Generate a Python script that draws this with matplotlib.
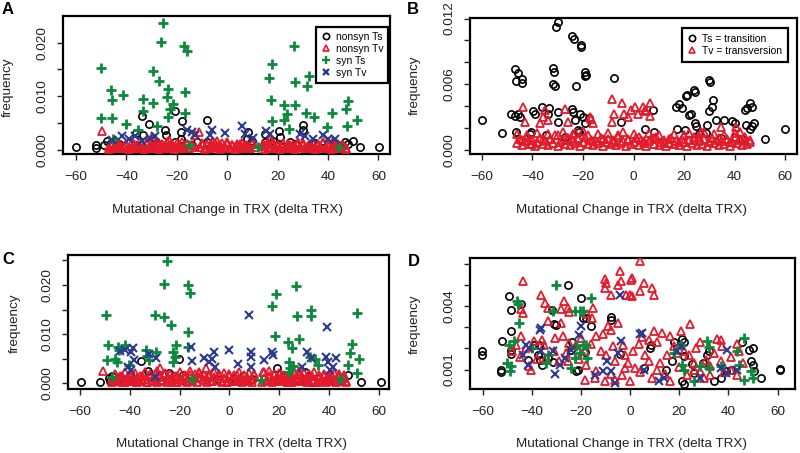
import matplotlib
matplotlib.use('Agg')
import matplotlib.pyplot as plt

plt.rcParams['font.family'] = ['Liberation Sans', 'DejaVu Sans']

# ---------------- data (frequency values in units of 1e-3) ----------------
# Panel A
A_nsts_x = [-60.1, 60.4, -52.1, -52.1, -48.9, -47.8, -33.9, -31.2, -20.6, -18.0,
            -8.1, -36.2, -33.3, -24.6, -24.2, -18.3, -18.3, -39.2, -22.7, -20.6,
            8.4, 8.0, 20.7, 21.0, 30.2, 29.9, 15.0, 24.9, 38.1, 46.8,
            50.1, 52.5, -44.5, 18.3, 15.0, 9.7, -8.1, -12.1, -46.0, -43.0,
            -28.0, -14.0, 22.0, 27.0, 35.0, 44.0, 48.0, -30.0, 33.0]
A_nsts_y = [0.5, 0.5, 0.8, 0.4, 0.8, 1.7, 6.3, 4.8, 7.3, 5.3,
            5.6, 3.1, 2.7, 3.7, 2.7, 3.3, 2.0, 0.4, 0.8, 1.4,
            3.3, 2.0, 3.5, 2.4, 4.7, 3.7, 1.4, 1.4, 0.4, 1.4,
            1.7, 0.5, 1.7, 1.7, 3.0, 1.7, 1.4, 1.4, 1.2, 1.0,
            1.0, 0.9, 0.6, 1.0, 1.2, 0.9, 1.0, 1.6, 0.4]

A_nstv_high_x = [-49.8, -11.1, -13.0, -30.0, -23.0, 17.0, 42.0, -4.0]
A_nstv_high_y = [3.5, 3.3, 2.8, 2.3, 1.8, 2.0, 1.7, 1.6]
A_band_x1 = [-47, -46, -45, -44, -43, -42, -41, -40, -39, -38,
             -37, -36, -35, -34, -33, -32, -31, -30, -29, -28,
             -27, -26, -25, -24, -23, -22, -21, -20, -19, -18,
             -17, -16, -15, -14, -13, -11, -10, -9, -8, -7,
             -6, -5, -4, -3, -2, -1, 0, 1, 2, 3,
             4, 5, 6, 7, 8, 9, 10, 11, 14, 15,
             16, 17, 18, 19, 20, 21, 22, 23, 24, 25,
             26, 27, 28, 29, 30, 31, 32, 33, 34, 35,
             36, 37, 38, 39, 40, 41, 42, 43, 44, 45,
             46, 47]
A_band_y1 = [0.5, 0.8, 0.3, 0.6, 1.0, 0.4, 0.7, 0.9, 0.3, 0.6,
             1.1, 0.5, 0.8, 0.4, 0.7, 1.0, 0.3, 0.6, 0.9, 0.5,
             1.2, 0.4, 0.7, 0.3, 0.8, 1.0, 0.5, 0.6, 0.9, 0.4,
             0.7, 1.1, 0.3, 0.8, 0.5, 0.6, 1.0, 0.4, 0.9, 0.3,
             0.7, 1.2, 0.5, 0.8, 0.4, 0.6, 1.0, 0.3, 0.9, 0.5,
             0.7, 1.1, 0.4, 0.8, 0.6, 0.3, 1.0, 0.5, 0.7, 0.9,
             0.4, 0.6, 1.2, 0.3, 0.8, 0.5, 1.0, 0.4, 0.7, 0.9,
             0.3, 0.6, 1.1, 0.5, 0.8, 0.4, 0.7, 1.0, 0.3, 0.6,
             0.9, 0.5, 1.2, 0.4, 0.8, 0.3, 0.7, 1.0, 0.5, 0.6,
             0.9, 0.4]
A_band_x2 = [-46, -44, -42, -40, -38, -36, -34, -32, -30, -28,
             -26, -24, -22, -20, -18, -16, -14, -10, -8, -6,
             -4, -2, 0, 2, 4, 6, 8, 10, 14, 16,
             18, 20, 22, 24, 26, 28, 30, 32, 34, 36,
             38, 40, 42, 44, 46]
A_band_y2 = [0.9, 1.3, 0.6, 1.1, 1.4, 0.8, 1.2, 1.5, 0.9, 1.3,
             1.0, 1.4, 0.7, 1.2, 1.5, 1.1, 0.8, 1.3, 1.0, 1.4,
             0.7, 1.2, 1.5, 0.9, 1.1, 1.3, 0.8, 1.4, 1.0, 1.2,
             1.5, 0.8, 1.3, 1.1, 0.9, 1.4, 1.2, 0.7, 1.3, 1.0,
             1.5, 0.9, 1.2, 1.1, 0.8]
A_band_x3 = [-47, -45, -43, -41, -39, -37, -35, -33, -31, -29,
             -27, -25, -23, -21, -19, -17, -15, -9, -7, -5,
             -3, -1, 1, 3, 5, 7, 9, 15, 17, 19,
             21, 23, 25, 27, 29, 31, 33, 35, 37, 39,
             41, 43, 45, 47]
A_band_y3 = [0.2, 0.4, 0.3, 0.5, 0.2, 0.3, 0.4, 0.2, 0.5, 0.3,
             0.2, 0.4, 0.3, 0.2, 0.5, 0.3, 0.4, 0.2, 0.3, 0.5,
             0.2, 0.4, 0.3, 0.2, 0.5, 0.3, 0.4, 0.2, 0.3, 0.5,
             0.2, 0.4, 0.3, 0.2, 0.5, 0.3, 0.4, 0.2, 0.3, 0.5,
             0.2, 0.4, 0.3, 0.2]

A_syts_x = [-25.7, -26.4, -17.0, -16.1, -50.2, -29.6, -27.1, -46.2, -41.2, -23.4,
            -16.6, -45.6, -33.6, -29.6, -24.0, -21.7, -22.7, -50.2, -45.6, -40.1,
            -33.3, -23.4, -16.6, -28.0, -35.3, -15.1, 26.3, 17.9, 16.6, 26.9,
            32.6, 31.8, 50.7, 17.3, 22.6, 26.9, 23.6, 22.6, 24.7, 17.6,
            31.1, 34.6, 41.5, 39.5, 48.0, 47.1, 47.4, 51.4, 12.4, 44.3,
            -45.2]
A_syts_y = [23.6, 20.1, 19.4, 18.4, 15.3, 14.8, 12.9, 11.2, 10.2, 11.4,
            10.8, 9.3, 9.4, 8.7, 9.9, 8.6, 7.6, 6.0, 6.0, 4.8,
            7.2, 6.2, 6.8, 4.5, 3.6, 0.8, 19.3, 16.1, 13.4, 12.6,
            13.7, 12.0, 16.0, 9.3, 8.4, 8.4, 6.7, 5.5, 3.9, 5.3,
            6.8, 6.2, 6.8, 4.2, 9.1, 7.6, 4.5, 5.6, 0.5, 0.5,
            2.0]

A_sytv_x = [-41.9, -39.2, -36.6, -30.6, -28.7, -16.1, -14.1, -12.8, -6.2, -6.8,
            -0.9, 5.7, 7.1, 10.4, 15.4, 17.0, 28.9, 30.9, 34.2, 38.1,
            40.1, 42.8, -45.9, -33.9]
A_sytv_y = [2.5, 2.0, 2.5, 2.2, 2.5, 3.6, 3.3, 2.7, 3.6, 2.7,
            3.1, 4.5, 3.0, 2.2, 3.5, 2.9, 3.0, 2.5, 2.0, 2.7,
            2.0, 2.0, 1.9, 1.7]

# Panel B
B_ts_x = [-60.1, -52.2, -46.9, -45.9, -46.3, -44.3, -44.3, -48.3, -46.9, -45.6,
          -45.0, -46.3, -40.4, -39.7, -39.0, -36.4, -33.5, -34.0, -29.8, -30.5,
          -31.8, -31.4, -31.8, -31.1, -29.8, -29.8, -24.3, -23.7, -20.8, -20.6,
          -22.9, -19.3, -18.6, -19.3, -24.3, -23.9, -23.2, -21.2, -19.9, -19.3,
          -21.9, -21.6, -7.9, -5.0, 7.8, 4.5, 17.0, 17.9, 19.0, 20.6,
          21.0, 22.0, 22.7, 24.0, 24.5, 30.0, 30.2, 31.5, 30.9, 30.0,
          32.8, 35.9, 38.8, 40.1, 17.4, 20.3, 21.6, 24.3, 24.9, 28.9,
          28.5, 34.8, 40.1, 44.0, 46.0, 46.7, 45.1, 44.7, 46.7, 47.7,
          46.0, 52.0, 59.9, -41.0, -34.5, -27.0, -17.5, 8.2, 26.0, 43.0]
B_ts_y = [2.7, 1.5, 7.4, 7.0, 6.3, 6.5, 6.1, 3.3, 3.1, 3.3,
          3.0, 1.6, 1.6, 3.5, 3.3, 3.9, 3.8, 3.3, 11.7, 11.2,
          7.5, 7.1, 6.0, 5.8, 3.4, 2.5, 10.4, 10.1, 9.6, 9.4,
          5.8, 7.1, 6.8, 6.7, 3.7, 3.4, 2.7, 3.3, 3.0, 2.4,
          1.8, 1.6, 6.6, 2.5, 3.6, 1.9, 3.9, 4.2, 3.8, 4.9,
          5.0, 3.2, 3.3, 5.5, 5.3, 6.4, 6.2, 4.5, 3.9, 3.5,
          2.7, 2.7, 2.6, 2.4, 1.9, 1.8, 0.9, 2.4, 2.2, 2.3,
          1.5, 1.1, 1.2, 3.6, 4.3, 3.9, 3.8, 2.3, 2.2, 2.4,
          1.9, 1.0, 1.9, 1.4, 1.3, 1.2, 2.9, 1.6, 1.4, 1.0]

B_tv_high_x = [-43.6, -43.0, -35.1, -35.7, -33.8, -37.1, -27.2, -25.8, -23.2, -17.3,
               -16.0, -8.4, -7.8, -8.4, -4.5, -3.7, -0.8, 0.5, 1.8, 3.8,
               4.5, 6.5, 6.5, 26.9, 34.8, 40.7, 42.1, -17.0, -2.0, 5.0]
B_tv_high_y = [3.9, 2.5, 3.6, 3.0, 2.7, 2.4, 3.7, 2.5, 1.5, 3.0,
               2.4, 4.6, 3.3, 2.5, 4.3, 3.3, 3.6, 3.9, 3.3, 3.9,
               3.6, 4.3, 3.1, 1.6, 2.1, 2.1, 1.6, 2.8, 3.0, 3.5]
B_band_x1 = [-46, -45, -44, -43, -42, -41, -40, -39, -38, -37,
             -36, -35, -34, -33, -32, -31, -30, -29, -28, -27,
             -26, -25, -24, -23, -22, -21, -20, -19, -18, -17,
             -16, -15, -14, -13, -12, -11, -10, -9, -8, -7,
             -6, -5, -4, -3, -2, -1, 0, 1, 2, 3,
             4, 5, 6, 7, 8, 9, 10, 11, 12, 13,
             14, 15, 16, 17, 18, 19, 20, 21, 22, 23,
             24, 25, 26, 27, 28, 29, 30, 31, 32, 33,
             34, 35, 36, 37, 38, 39, 40, 41, 42, 43,
             44, 45, 46]
B_band_y1 = [0.6, 1.0, 0.4, 0.8, 1.2, 0.5, 0.9, 0.3, 0.7, 1.1,
             0.5, 0.8, 0.4, 1.0, 0.6, 1.3, 0.3, 0.7, 0.9, 0.5,
             1.1, 0.4, 0.8, 0.6, 1.0, 0.3, 0.7, 1.2, 0.5, 0.9,
             0.4, 0.8, 0.6, 1.1, 0.3, 0.7, 1.0, 0.5, 0.9, 0.4,
             1.2, 0.6, 0.8, 0.3, 1.0, 0.5, 0.7, 1.1, 0.4, 0.9,
             0.6, 0.3, 0.8, 1.0, 0.5, 1.2, 0.4, 0.7, 0.9, 0.3,
             0.6, 1.1, 0.5, 0.8, 0.4, 1.0, 0.7, 0.3, 0.9, 0.6,
             1.2, 0.4, 0.8, 0.5, 1.0, 0.3, 0.7, 1.1, 0.6, 0.9,
             0.4, 0.8, 0.5, 1.0, 0.3, 0.7, 1.2, 0.6, 0.9, 0.4,
             0.8, 0.5, 0.7]
B_band_x2 = [-46, -44, -42, -40, -38, -36, -34, -32, -30, -28,
             -26, -24, -22, -20, -18, -16, -14, -12, -10, -8,
             -6, -4, -2, 0, 2, 4, 6, 8, 10, 12,
             14, 16, 18, 20, 22, 24, 26, 28, 30, 32,
             34, 36, 38, 40, 42, 44, 46]
B_band_y2 = [1.4, 0.9, 1.3, 0.5, 1.5, 1.0, 1.4, 0.6, 1.3, 1.6,
             0.9, 1.4, 1.1, 1.7, 1.3, 0.8, 1.4, 1.0, 1.5, 0.7,
             1.3, 1.6, 0.9, 1.4, 1.2, 0.8, 1.5, 1.1, 1.3, 0.6,
             1.0, 1.4, 0.7, 1.3, 1.5, 0.9, 1.2, 1.6, 0.8, 1.4,
             1.1, 1.3, 0.7, 1.5, 1.0, 1.2, 0.9]

# Panel C
C_nsts_x = [-59.6, -51.8, -48.2, -48.0, -35.5, -20.1, -24.1, -18.7, -18.0, -38.1,
            -32.8, 5.4, 19.2, 18.1, 22.1, 30.2, 47.6, 53.0, 61.0, -44.0,
            -28.0, -22.0, 2.0, 20.0, 25.0, 28.0, 35.0, 40.0, 45.0, -40.0,
            9.0, -5.0, 33.0, -47.0]
C_nsts_y = [0.3, 0.2, 1.0, 0.4, 4.5, 4.9, 2.2, 1.7, 1.0, 0.3,
            2.5, 1.4, 3.2, 1.7, 1.2, 2.4, 1.6, 0.3, 0.3, 1.1,
            0.5, 0.9, 1.1, 0.6, 0.9, 0.4, 1.0, 0.8, 0.5, 1.3,
            0.8, 0.9, 0.3, 1.4]

C_nstv_high_x = [-50.6, -27.8, -9.3, -12.0, 13.4, -29.0, 16.0, 28.0]
C_nstv_high_y = [2.5, 3.1, 3.2, 2.4, 2.4, 2.6, 2.5, 2.6]
C_band_x1 = [-47, -46, -45, -44, -43, -42, -41, -40, -39, -38,
             -37, -36, -35, -34, -33, -32, -31, -30, -29, -28,
             -27, -26, -25, -24, -23, -22, -21, -20, -19, -18,
             -17, -16, -15, -14, -13, -12, -10, -9, -8, -7,
             -6, -5, -4, -3, -2, -1, 0, 1, 2, 3,
             4, 5, 6, 7, 8, 9, 10, 13, 14, 15,
             16, 17, 18, 19, 20, 21, 22, 23, 24, 25,
             26, 27, 28, 29, 30, 31, 32, 33, 34, 35,
             36, 37, 38, 39, 40, 41, 42, 43, 44, 45,
             46, 47]
C_band_y1 = [0.8, 0.4, 1.2, 0.6, 1.5, 0.3, 1.0, 0.7, 1.8, 0.5,
             1.1, 0.4, 1.4, 0.8, 0.3, 1.6, 0.6, 1.0, 0.4, 1.3,
             0.7, 1.9, 0.5, 0.9, 1.2, 0.3, 1.5, 0.8, 0.6, 1.1,
             0.4, 1.7, 0.7, 1.0, 0.3, 1.3, 0.6, 0.9, 1.5, 0.4,
             1.2, 0.7, 1.8, 0.5, 1.0, 0.3, 1.4, 0.8, 0.6, 1.6,
             0.4, 1.1, 0.7, 1.3, 0.5, 0.9, 1.7, 0.3, 1.0, 0.6,
             1.4, 0.8, 0.4, 1.2, 0.7, 1.6, 0.5, 0.9, 0.3, 1.3,
             0.6, 1.0, 1.8, 0.4, 0.8, 1.2, 0.5, 1.5, 0.7, 0.3,
             1.1, 0.6, 1.4, 0.9, 0.4, 1.7, 0.8, 0.5, 1.2, 0.6,
             1.0, 0.4]
C_band_x2 = [-46, -44, -42, -40, -38, -36, -34, -32, -30, -28,
             -26, -24, -22, -20, -18, -16, -14, -12, -10, -8,
             -6, -4, -2, 0, 2, 4, 6, 8, 10, 14,
             16, 18, 20, 22, 24, 26, 28, 30, 32, 34,
             36, 38, 40, 42, 44, 46]
C_band_y2 = [2.0, 1.5, 2.3, 1.7, 2.1, 1.4, 2.4, 1.8, 2.0, 1.6,
             2.2, 1.9, 1.5, 2.3, 1.7, 2.5, 1.8, 2.1, 1.6, 2.0,
             2.4, 1.5, 2.2, 1.9, 1.7, 2.3, 1.6, 2.1, 1.8, 2.4,
             1.5, 2.0, 2.2, 1.7, 1.9, 2.3, 1.6, 2.1, 1.8, 2.4,
             1.7, 2.0, 1.5, 2.2, 1.9, 1.6]
C_band_x3 = [-47, -45, -43, -41, -39, -37, -35, -33, -31, -29,
             -27, -25, -23, -21, -19, -17, -15, -9, -7, -5,
             -3, -1, 1, 3, 5, 7, 9, 15, 17, 19,
             21, 23, 25, 27, 29, 31, 33, 35, 37, 39,
             41, 43, 45, 47]
C_band_y3 = [0.3, 0.6, 0.2, 0.5, 0.4, 0.2, 0.7, 0.3, 0.5, 0.2,
             0.6, 0.3, 0.4, 0.2, 0.7, 0.3, 0.5, 0.2, 0.4, 0.6,
             0.3, 0.2, 0.5, 0.4, 0.2, 0.6, 0.3, 0.5, 0.2, 0.4,
             0.7, 0.3, 0.2, 0.5, 0.4, 0.2, 0.6, 0.3, 0.5, 0.2,
             0.4, 0.3, 0.6, 0.2]

C_syts_x = [-25.0, -26.1, -16.7, -15.8, -49.6, -29.7, -26.3, -23.3, -16.5, -48.9,
            -44.9, -44.5, -41.9, -49.3, -45.3, -45.8, -33.5, -33.1, -32.2, -29.4,
            -22.7, -22.0, -21.4, -22.7, -16.7, -40.5, -15.0, 12.8, 26.9, 18.6,
            17.2, 27.3, 32.6, 32.9, 51.4, 18.4, 23.5, 27.8, 25.1, 23.9,
            24.4, 25.5, 32.2, 34.2, 35.6, 49.3, 48.3, 52.1, 47.6, 51.3,
            44.3, -47.0, 24.0]
C_syts_y = [24.9, 20.3, 20.0, 18.3, 14.0, 14.0, 13.4, 11.9, 10.4, 7.7,
            7.3, 6.8, 7.7, 4.7, 4.4, 5.0, 6.8, 5.6, 4.7, 6.3,
            6.4, 5.4, 7.7, 4.4, 7.3, 3.8, 0.9, 0.7, 19.7, 18.1,
            15.8, 13.6, 14.9, 13.6, 14.4, 9.7, 8.5, 9.0, 7.1, 4.4,
            3.1, 3.5, 5.4, 4.9, 3.7, 7.9, 6.1, 4.9, 3.7, 2.2,
            0.9, 1.2, 2.3]

C_sytv_x = [7.9, 39.2, -41.8, -38.8, -39.5, -38.1, -40.8, -39.5, -32.2, -29.4,
            -15.4, -15.0, -10.3, -8.0, -6.0, -5.6, -7.0, -0.2, 3.4, 8.5,
            8.8, 8.7, 13.9, 17.2, 17.5, 31.2, 32.9, 38.7, 39.6, 41.6,
            43.0, 40.5, 29.0, -44.0, -30.0]
C_sytv_y = [13.9, 11.5, 6.8, 7.1, 6.4, 4.7, 3.4, 2.7, 5.9, 5.2,
            7.3, 4.5, 5.2, 4.4, 6.4, 3.4, 5.0, 6.8, 3.9, 6.4,
            5.4, 3.4, 4.7, 6.4, 5.8, 6.4, 5.1, 5.4, 4.4, 3.4,
            5.1, 2.7, 3.4, 6.6, 1.2]

# Panel D
D_nsts_x = [-60.5, -60.5, -52.6, -52.6, -52.2, -49.2, -48.5, -48.5, -48.7, -48.5,
            -44.5, -25.4, -20.2, -19.2, -17.9, -31.9, -31.0, -30.1, -39.0, -37.0,
            -37.6, -36.6, -36.0, -31.6, -33.6, -23.7, -18.5, -21.3, -22.0, -16.1,
            -7.6, -7.6, -4.2, 8.5, 8.2, 21.1, 21.8, 17.7, 17.0, 21.8,
            21.1, 22.1, 25.2, 32.0, 31.1, 25.9, 36.8, 34.1, 40.9, 45.7,
            48.4, 49.8, 49.1, 49.8, 50.5, 53.2, 61.1, 61.1, 5.5, 38.9,
            -24.0, -41.5, 14.5, 29.5]
D_nsts_y = [1.87, 1.68, 1.00, 0.90, 2.37, 4.47, 3.84, 2.85, 1.95, 1.74,
            4.11, 4.99, 4.39, 3.45, 3.45, 3.84, 3.16, 3.13, 2.18, 2.18,
            1.71, 1.47, 1.21, 1.36, 1.55, 2.31, 1.84, 1.00, 0.92, 3.05,
            3.48, 3.37, 1.74, 2.18, 2.02, 2.47, 2.31, 2.31, 1.39, 1.63,
            0.45, 0.32, 1.27, 1.87, 1.71, 0.84, 0.61, 0.48, 1.00, 2.31,
            1.95, 2.00, 1.43, 1.24, 0.92, 0.61, 1.05, 1.00, 1.08, 0.92,
            1.95, 1.45, 1.00, 1.30]

D_nstv_x = [-43.8, -36.3, -34.6, -33.5, -44.5, -43.8, -27.1, -25.4, -28.0, -33.5,
            -28.1, -24.7, -15.1, -15.5, -17.4, -10.1, -9.7, -10.4, -4.2, -3.8,
            -4.9, 0.3, -1.5, -7.6, -44.5, -46.5, -42.4, -39.0, -34.9, -30.8,
            -27.4, -24.7, -22.0, -18.5, -17.9, -13.8, -9.0, -7.6, -11.0, -7.0,
            -9.7, -6.3, -2.9, -2.2, -41.3, -40.4, -25.4, -18.5, -14.5, -10.4,
            -3.5, -2.2, -34.2, -5.0, 3.8, 0.7, 5.5, 8.9, 9.5, 0.0,
            0.7, 3.8, 24.3, 9.5, 13.0, 16.4, 20.5, 4.8, 3.4, 7.5,
            10.9, 28.6, 35.2, 36.8, 15.0, 19.1, 1.1, 37.5, 43.6, 44.3,
            23.9, 36.8, 32.7, 2.0, 7.5, 10.9, 16.4, 23.2, 28.6, 32.7,
            40.9, 43.6, 8.9, 0.0, 25.9, 30.7, -20.0, -16.0, -12.0, -14.0,
            -8.0, -6.0, -1.0, 4.0, 6.0, 12.0, 14.0, 18.0, 20.0, 22.0,
            26.0, 27.0, 30.0, 34.0, 38.0, 41.0, 46.0, -36.0, -38.0, -31.0,
            -29.0, -45.0, -48.0, -26.0, -21.0]
D_nstv_y = [5.18, 4.52, 4.16, 3.92, 3.89, 3.70, 4.24, 3.92, 3.85, 3.29,
            3.21, 3.73, 3.92, 3.45, 3.65, 5.31, 5.11, 4.85, 5.69, 5.22,
            5.03, 5.26, 4.55, 4.55, 2.58, 2.18, 2.03, 2.34, 2.18, 2.50,
            2.58, 2.26, 2.18, 1.87, 1.24, 0.92, 3.05, 2.89, 2.68, 2.11,
            1.71, 1.39, 2.18, 1.71, 1.16, 1.00, 1.39, 0.53, 0.61, 0.45,
            0.76, 1.08, 1.55, 3.21, 6.13, 5.34, 5.11, 4.87, 4.55, 4.55,
            4.50, 4.72, 3.16, 2.85, 2.74, 2.60, 2.85, 2.53, 2.22, 2.42,
            2.31, 2.31, 2.47, 2.42, 1.71, 1.79, 1.87, 2.11, 2.22, 1.87,
            1.71, 1.39, 1.16, 1.08, 1.39, 1.00, 0.48, 0.76, 0.92, 0.76,
            1.00, 0.76, 0.61, 0.45, 1.32, 1.47, 2.50, 2.20, 1.90, 2.60,
            0.80, 0.50, 1.30, 0.90, 1.70, 1.30, 0.80, 2.10, 1.10, 1.90,
            1.00, 2.00, 0.60, 1.80, 0.90, 1.60, 1.30, 2.40, 1.50, 1.90,
            1.40, 1.60, 1.90, 1.80, 1.50]

D_syts_x = [-30.1, -46.1, -45.5, -45.1, -47.2, -49.2, -50.2, -48.5, -48.9, -31.5,
            -22.4, -20.6, -19.2, -16.1, -22.0, -20.6, -19.2, -17.9, -17.5, -24.0,
            -22.6, -34.2, -33.5, 46.4, 31.1, 32.0, 20.7, 17.7, 21.8, 21.1,
            25.9, 28.6, 32.0, 43.6, 44.3, 46.4, 49.1, 49.8, 36.8, -40.0]
D_syts_y = [5.03, 4.27, 4.10, 3.21, 2.37, 2.18, 1.32, 1.16, 0.95, 3.79,
            3.76, 3.76, 3.79, 4.39, 2.11, 1.79, 2.18, 2.18, 1.55, 1.08,
            1.55, 1.32, 1.70, 2.50, 2.37, 2.05, 2.18, 1.79, 1.00, 1.24,
            0.48, 1.16, 1.08, 1.87, 1.24, 0.53, 0.92, 0.60, 1.16, 2.00]

D_sytv_x = [-36.3, -36.6, -20.2, -21.0, -4.2, -42.4, -41.0, -43.8, -36.3, -31.5,
            -26.7, -28.6, -30.5, -41.7, -24.0, -14.2, -11.0, -7.6, -6.3, -4.9,
            -3.8, 4.8, 3.8, 20.5, 19.1, 39.5, 13.6, 11.6, 5.5, 36.8,
            38.9, 43.6, 28.6, -9.5]
D_sytv_y = [2.97, 2.90, 3.05, 2.66, 4.55, 2.18, 2.00, 1.71, 1.87, 1.87,
            1.55, 1.24, 0.79, 1.24, 1.95, 0.76, 0.95, 0.92, 0.37, 1.79,
            2.34, 2.74, 2.70, 2.11, 1.87, 1.95, 0.61, 0.45, 1.00, 1.08,
            0.84, 1.00, 0.61, 1.40]

x_ticks = [-60, -40, -20, 0, 20, 40, 60]
x_tick_labels = ['\u221260', '\u221240', '\u221220', '0', '20', '40', '60']

BLACK = '#000000'
RED = '#E31A2C'
GREEN = '#0B8A3C'
BLUE = '#2C3A8F'

XLABEL = 'Mutational Change in TRX (delta TRX)'

fig = plt.figure(figsize=(8, 4.53), dpi=100)
W, H = 800.0, 453.0


def box(l, t, r, b):
    return [l / W, 1 - b / H, (r - l) / W, (b - t) / H]


def style(ax, xlim, ylim, yticks, ylabels):
    ax.set_xlim(*xlim)
    ax.set_ylim(*ylim)
    ax.set_xticks(x_ticks)
    ax.set_xticklabels(x_tick_labels)
    ax.set_yticks(yticks)
    ax.set_yticklabels(ylabels, rotation=90, va='center')
    for s in ax.spines.values():
        s.set_linewidth(1.6)
    ax.tick_params(direction='out', length=4.5, width=1, labelsize=9.7, colors='#222222')
    ax.tick_params(axis='x', pad=8)
    ax.tick_params(axis='y', pad=6)


def pts(ax, x, y, kind):
    if kind == 'o':
        ax.plot(x, y, 'o', ms=5.2, mfc='none', mec=BLACK, mew=1.2, zorder=3)
    elif kind == '^':
        ax.plot(x, y, '^', ms=6.3, mfc='none', mec=RED, mew=1.3, zorder=3)
    elif kind == '+':
        ax.plot(x, y, '+', ms=7.5, mec=GREEN, mew=2.0, zorder=3)
    elif kind == 'x':
        ax.plot(x, y, 'x', ms=5.3, mec=BLUE, mew=1.5, zorder=3)


def legend_handles(kinds):
    hs = []
    for k in kinds:
        col = {'o': BLACK, '^': RED, '+': GREEN, 'x': BLUE}[k]
        hs.append(plt.Line2D([], [], ls='none', marker=k, ms=4.5 if k != '+' else 6,
                             mfc='none', mec=col, mew=1.2 if k in 'o^' else 1.7))
    return hs


# ---- A ----
axA = fig.add_axes(box(63, 16, 390, 154))
pts(axA, A_nsts_x, A_nsts_y, 'o')
pts(axA, A_nstv_high_x + A_band_x1 + A_band_x2 + A_band_x3,
    A_nstv_high_y + A_band_y1 + A_band_y2 + A_band_y3, '^')
pts(axA, A_syts_x, A_syts_y, '+')
pts(axA, A_sytv_x, A_sytv_y, 'x')
style(axA, (-65.2, 64.6), (-0.8, 25.0), [0, 5, 10, 15, 20],
      ['0.000', '', '0.010', '', '0.020'])
legA = fig.legend(legend_handles(['o', '^', '+', 'x']),
                  ['nonsyn Ts', 'nonsyn Tv', 'syn Ts', 'syn Tv'],
                  loc='upper right', bbox_to_anchor=(388 / W, 1 - 27 / H),
                  fontsize=7.5, frameon=True, fancybox=False, framealpha=1,
                  edgecolor='black', borderpad=0.45, labelspacing=0.2,
                  handlelength=0.9, handletextpad=0.5, borderaxespad=0)
legA.get_frame().set_linewidth(1.6)

# ---- B ----
axB = fig.add_axes(box(470, 18, 797, 154))
pts(axB, B_ts_x, B_ts_y, 'o')
pts(axB, B_tv_high_x + B_band_x1 + B_band_x2, B_tv_high_y + B_band_y1 + B_band_y2, '^')
style(axB, (-64.7, 64.7), (-0.4, 12.05), [0, 2, 4, 6, 8, 10, 12],
      ['0.000', '', '', '0.006', '', '', '0.012'])
legB = fig.legend(legend_handles(['o', '^']),
                  ['Ts = transition', 'Tv = transversion'],
                  loc='upper right', bbox_to_anchor=(788 / W, 1 - 28 / H),
                  fontsize=7.5, frameon=True, fancybox=False, framealpha=1,
                  edgecolor='black', borderpad=0.55, labelspacing=0.2,
                  handlelength=0.9, handletextpad=0.5, borderaxespad=0)
legB.get_frame().set_linewidth(1.6)

# ---- C ----
axC = fig.add_axes(box(68, 255, 389, 389))
pts(axC, C_nsts_x, C_nsts_y, 'o')
pts(axC, C_nstv_high_x + C_band_x1 + C_band_x2 + C_band_x3,
    C_nstv_high_y + C_band_y1 + C_band_y2 + C_band_y3, '^')
pts(axC, C_syts_x, C_syts_y, '+')
pts(axC, C_sytv_x, C_sytv_y, 'x')
style(axC, (-64.8, 64.1), (-1.15, 26.1), [0, 5, 10, 15, 20, 25],
      ['0.000', '', '0.010', '', '0.020', ''])

# ---- D ----
axD = fig.add_axes(box(470, 258, 795, 389))
pts(axD, D_nsts_x, D_nsts_y, 'o')
pts(axD, D_nstv_x, D_nstv_y, '^')
pts(axD, D_syts_x, D_syts_y, '+')
pts(axD, D_sytv_x, D_sytv_y, 'x')
style(axD, (-65.2, 67.1), (0.08, 6.29), [1, 2, 3, 4, 5, 6],
      ['0.001', '', '', '0.004', '', ''])

# axis titles and panel letters
for cx, cy in [(228, 210), (631, 210), (232, 444), (632, 444)]:
    fig.text(cx / W, 1 - cy / H, XLABEL, ha='center', va='center', fontsize=9.7, color='#222222')
for cx, cy in [(8, 87), (415, 85), (15, 323), (415, 324)]:
    fig.text(cx / W, 1 - cy / H, 'frequency', ha='center', va='center', rotation=90,
             fontsize=9.7, color='#222222')
for letter, cx, cy in [('A', 8, 10), ('B', 413, 10), ('C', 8, 259), ('D', 414, 262)]:
    fig.text(cx / W, 1 - cy / H, letter, ha='center', va='center', fontsize=12,
             fontweight='bold')

fig.savefig('out.png', dpi=100)
